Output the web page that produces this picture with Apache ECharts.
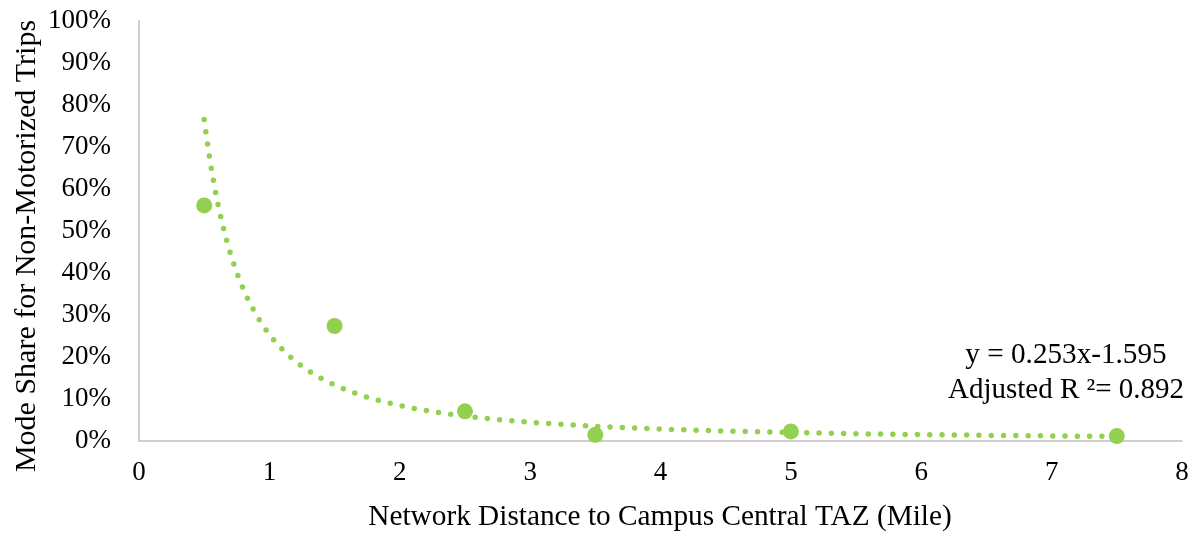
<!DOCTYPE html>
<html>
<head>
<meta charset="utf-8">
<script src="https://cdn.jsdelivr.net/npm/echarts@6/dist/echarts.min.js"></script>
<style>
  html, body { margin: 0; padding: 0; background: #fff; }
  #chart { width: 1195px; height: 533px; }
</style>
</head>
<body>
<div id="chart"></div>
<script>
// Observed non-motorized mode share by network distance to the campus central TAZ
const distances = [0.5, 1.5, 2.5, 3.5, 5, 7.5];
const modeShare = [0.56, 0.273, 0.07, 0.014, 0.022, 0.011];

// Power trendline y = a * x^b, coefficients as reported
const TREND_A = 0.253;
const TREND_B = -1.595;
const equationText = 'y = 0.253x-1.595';
const rSquaredText = 'Adjusted R \u00B2= 0.892';

const xTitle = 'Network Distance to Campus Central TAZ (Mile)';
const yTitle = 'Mode Share for Non-Motorized Trips';

const GREEN = '#92d050';
const AXIS_GREY = '#c0c0c0';
const FONT = '"Liberation Serif", "Times New Roman", serif';

// Trendline sampled across the observed distance range
const xStart = distances[0];
const xEnd = distances[distances.length - 1];
const trendPoints = [];
const steps = 400;
for (let i = 0; i <= steps; i++) {
  const x = xStart + (xEnd - xStart) * i / steps;
  trendPoints.push([x, TREND_A * Math.pow(x, TREND_B)]);
}

const chart = echarts.init(document.getElementById('chart'), null, { renderer: 'canvas' });

chart.setOption({
  animation: false,
  backgroundColor: '#ffffff',
  grid: { left: 139, right: 13, top: 20.5, bottom: 92.3, containLabel: false },
  xAxis: {
    type: 'value',
    min: 0,
    max: 8,
    interval: 1,
    axisLine: { show: true, onZero: false, lineStyle: { color: AXIS_GREY, width: 1.5 } },
    axisTick: { show: false },
    splitLine: { show: false },
    axisLabel: { color: '#000', fontFamily: FONT, fontSize: 27, margin: 19 }
  },
  yAxis: {
    type: 'value',
    min: 0,
    max: 1,
    interval: 0.1,
    axisLine: { show: true, lineStyle: { color: AXIS_GREY, width: 1.5 } },
    axisTick: { show: false },
    splitLine: { show: false },
    axisLabel: {
      color: '#000', fontFamily: FONT, fontSize: 27, margin: 28,
      formatter: v => Math.round(v * 100) + '%'
    }
  },
  graphic: [
    {
      type: 'text', x: 660, y: 517,
      style: { text: xTitle, font: '29.3px ' + FONT, fill: '#000', align: 'center', verticalAlign: 'middle' }
    },
    {
      type: 'text', rotation: Math.PI / 2, x: 27, y: 246,
      style: { text: yTitle, font: '30px ' + FONT, fill: '#000', align: 'center', verticalAlign: 'middle' }
    },
    {
      type: 'text', x: 1066, y: 355,
      style: { text: equationText, font: '29.2px ' + FONT, fill: '#000', align: 'center', verticalAlign: 'middle' }
    },
    {
      type: 'text', x: 1066, y: 390,
      style: { text: rSquaredText, font: '29px ' + FONT, fill: '#000', align: 'center', verticalAlign: 'middle' }
    }
  ],
  series: [
    {
      name: 'Mode share',
      type: 'scatter',
      symbol: 'circle',
      symbolSize: 16,
      itemStyle: { color: GREEN, opacity: 1 },
      data: distances.map((d, i) => [d, modeShare[i]]),
      z: 3
    },
    {
      name: 'Power trendline',
      type: 'line',
      showSymbol: false,
      smooth: false,
      lineStyle: { color: GREEN, width: 5.5, type: [0, 12.3], cap: 'round', opacity: 1 },
      data: trendPoints,
      z: 2
    }
  ]
});
</script>
</body>
</html>
